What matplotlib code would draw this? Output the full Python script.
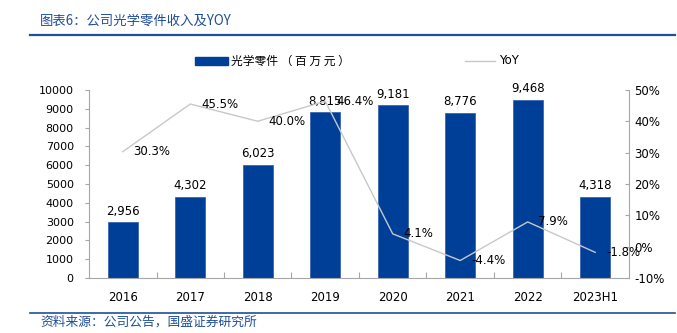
import numpy as np
import matplotlib
matplotlib.use('Agg')
import matplotlib.pyplot as plt
from matplotlib.patches import Rectangle
from matplotlib.lines import Line2D
from matplotlib.ticker import FuncFormatter

plt.rcParams['font.family'] = ['DejaVu Sans', 'Noto Sans CJK SC']

# 光学零件收入（百万元）及同比增速
years = ['2016', '2017', '2018', '2019', '2020', '2021', '2022', '2023H1']
revenue = [2956, 4302, 6023, 8815, 9181, 8776, 9468, 4318]
yoy = [30.3, 45.5, 40.0, 46.4, 4.1, -4.4, 7.9, -1.8]

bar_color = '#003F98'
line_color = '#C8C8C8'
axis_color = '#A6A6A6'
title_color = '#1F4E9A'
cjk = ['Noto Sans CJK SC', 'DejaVu Sans']

fig = plt.figure(figsize=(6.77, 3.33), dpi=100)
ax = fig.add_axes([0.1315, 0.165, 0.7975, 0.565])
ax2 = ax.twinx()

x = np.arange(len(years))
ax.bar(x, revenue, width=0.45, color=bar_color, edgecolor='#3A66B0', linewidth=0.6, zorder=2)
for xi, v in zip(x, revenue):
    ax.text(xi, v + 250, f'{v:,}', ha='center', va='bottom', fontsize=8.5, color='#000000')

ax.set_xlim(-0.5, len(years) - 0.5)
ax.set_ylim(0, 10000)
ax.set_yticks(np.arange(0, 10001, 1000))
ax.set_xticks(x)
ax.set_xticklabels(years)

ax2.plot(x, yoy, color=line_color, linewidth=1.0, zorder=3)
for xi, v in zip(x, yoy):
    ax2.text(xi + 0.16, v, f'{v:.1f}%', ha='left', va='center', fontsize=8.5, color='#000000')
ax2.set_ylim(-10, 50)
ax2.set_yticks(np.arange(-10, 51, 10))
ax2.yaxis.set_major_formatter(FuncFormatter(lambda v, p: f'{v:.0f}%'))

# 坐标轴样式
for a in (ax, ax2):
    for s in a.spines.values():
        s.set_visible(False)
ax.spines['left'].set_visible(True)
ax.spines['left'].set_color(axis_color)
ax.spines['bottom'].set_visible(True)
ax.spines['bottom'].set_color(axis_color)
ax2.spines['right'].set_visible(True)
ax2.spines['right'].set_color(axis_color)

ax.tick_params(axis='y', direction='out', length=3, color=axis_color, labelsize=8, pad=8)
ax.tick_params(axis='x', length=0, labelsize=8.5, pad=9)
ax2.tick_params(axis='y', direction='in', length=3, color=axis_color, labelsize=8.5, pad=4)
# 类目之间的小刻度
ax.set_xticks(x[:-1] + 0.5, minor=True)
ax.tick_params(axis='x', which='minor', direction='in', length=4, color=axis_color, width=0.8)

# 图例
fig.patches.append(Rectangle((195 / 677, 1 - 65 / 333), 33 / 677, 8 / 333,
                             transform=fig.transFigure, color=bar_color, figure=fig))
fig.text(231 / 677, 1 - 61 / 333, '光学零件 （ 百 万 元 ）', family=cjk, fontsize=8.5,
         va='center', ha='left')
fig.add_artist(Line2D([465 / 677, 495 / 677], [1 - 61 / 333, 1 - 61 / 333],
                      transform=fig.transFigure, color=line_color, linewidth=1.0))
fig.text(499 / 677, 1 - 61 / 333, 'YoY', fontsize=8.5, va='center', ha='left')

# 标题与来源
fig.text(40 / 677, 1 - 21 / 333, '图表6：公司光学零件收入及YOY', family=cjk,
         fontsize=9.6, color=title_color, va='center', ha='left', style='italic')
fig.add_artist(Line2D([30 / 677, 675 / 677], [1 - 34.5 / 333, 1 - 34.5 / 333],
                      transform=fig.transFigure, color='#1F4E9A', linewidth=1.6))
fig.add_artist(Line2D([30 / 677, 675 / 677], [1 - 313 / 333, 1 - 313 / 333],
                      transform=fig.transFigure, color='#1F4E9A', linewidth=1.2))
fig.text(40 / 677, 1 - 322 / 333, '资料来源：公司公告，国盛证券研究所', family=cjk,
         fontsize=9.2, color=title_color, va='center', ha='left', style='italic')

fig.savefig('out.png', dpi=100)
